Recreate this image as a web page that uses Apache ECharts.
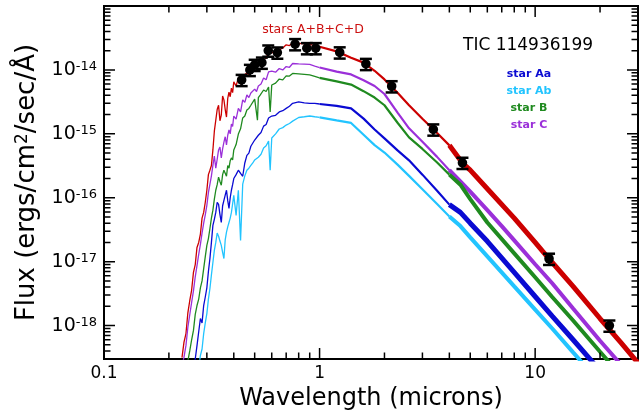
<!DOCTYPE html>
<html>
<head>
<meta charset="utf-8">
<title>TIC 114936199 SED</title>
<style>
html, body { margin: 0; padding: 0; background: #fff; }
#main { width: 639px; height: 416px; }
</style>
</head>
<body>
<div id="main"></div>
<script src="https://cdn.jsdelivr.net/npm/echarts@6/dist/echarts.min.js"></script>
<script>
// model spectra: [wavelength (microns), flux (ergs/cm2/sec/A)]
var starsABCD = [
    [0.23,3.15e-19],[0.235,5.5e-19],[0.24,7.5e-19],[0.245,1.6e-18],[0.25,2.47e-18],[0.255,3.6e-18],
    [0.26,6.8e-18],[0.265,9.0e-18],[0.27,1.67e-17],[0.275,2.0e-17],[0.28,2.7e-17],[0.285,4.8e-17],
    [0.29,5.9e-17],[0.295,8.5e-17],[0.30,1.31e-16],[0.305,2.3e-16],[0.31,2.7e-16],[0.315,3.2e-16],
    [0.32,5.6e-16],[0.325,1.1e-15],[0.33,1.15e-15],[0.335,2.4e-15],[0.34,2.8e-15],[0.345,1.6e-15],
    [0.35,1.97e-15],[0.355,3.9e-15],[0.36,3.4e-15],[0.365,2.4e-15],[0.37,1.83e-15],[0.375,3.6e-15],
    [0.38,4.5e-15],[0.385,3.8e-15],[0.39,5.2e-15],[0.395,4.4e-15],[0.40,6.5e-15],[0.41,5.6e-15],
    [0.42,7.5e-15],[0.43,6.0e-15],[0.44,7.0e-15],[0.45,8.4e-15],[0.46,9.0e-15],[0.47,8.2e-15],
    [0.48,9.6e-15],[0.49,1.02e-14],[0.50,1.07e-14],[0.51,1.2e-14],[0.52,1.33e-14],[0.535,1.25e-14],
    [0.55,1.6e-14],[0.565,1.5e-14],[0.58,2.06e-14],[0.60,1.85e-14],[0.625,2.0e-14],[0.65,2.06e-14],
    [0.675,2.2e-14],[0.70,2.47e-14],[0.725,2.4e-14],[0.75,2.65e-14],[0.80,2.6e-14],[0.85,2.55e-14],
    [0.90,2.5e-14],[0.95,2.4e-14],[1.0,2.3e-14],[1.2,1.95e-14],[1.4,1.55e-14],[1.6,1.3e-14],
    [1.8,9.7e-15],[2.0,7.1e-15],[2.3,4.4e-15],[2.6,2.8e-15],[3.0,1.72e-15],[3.5,1.04e-15],
    [4.0,6.6e-16],[4.6,3.5e-16],[5,2.7e-16],[6,1.38e-16],[8,4.8e-17],[10,2.0e-17],[12,9.7e-18],
    [15,4.1e-18],[20,1.29e-18],[25,5.4e-19],[30,2.6e-19]
];
var starC = [
    [0.23,2.3e-19],[0.235,3.2e-19],[0.24,4.9e-19],[0.245,9.5e-19],[0.25,1.49e-18],[0.255,2.3e-18],
    [0.26,3.5e-18],[0.265,5.8e-18],[0.27,8.7e-18],[0.275,1.3e-17],[0.28,1.87e-17],[0.285,2.8e-17],
    [0.29,4.0e-17],[0.295,5.4e-17],[0.30,7.6e-17],[0.305,1.2e-16],[0.31,1.63e-16],[0.315,2.2e-16],
    [0.32,3.2e-16],[0.325,4.5e-16],[0.33,2.9e-16],[0.335,4.0e-16],[0.34,5.6e-16],[0.345,6.2e-16],
    [0.35,4.2e-16],[0.355,5.8e-16],[0.36,7.4e-16],[0.365,9.0e-16],[0.37,6.7e-16],[0.375,9.5e-16],
    [0.38,1.15e-15],[0.385,1.0e-15],[0.39,1.42e-15],[0.395,1.3e-15],[0.40,1.9e-15],[0.41,1.7e-15],
    [0.42,2.5e-15],[0.43,2.2e-15],[0.44,3.4e-15],[0.45,3.1e-15],[0.46,4.05e-15],[0.47,3.7e-15],
    [0.48,4.35e-15],[0.49,4.1e-15],[0.50,5.0e-15],[0.51,4.6e-15],[0.52,5.6e-15],[0.535,6.0e-15],
    [0.55,7.5e-15],[0.565,7.0e-15],[0.58,9.3e-15],[0.60,9.6e-15],[0.625,9.2e-15],[0.65,1.05e-14],
    [0.675,1.0e-14],[0.70,1.13e-14],[0.725,1.1e-14],[0.75,1.26e-14],[0.80,1.24e-14],[0.85,1.23e-14],
    [0.90,1.22e-14],[0.95,1.15e-14],[1.0,1.09e-14],[1.2,9.4e-15],[1.4,8.5e-15],[1.6,6.9e-15],
    [1.8,5.6e-15],[2.0,4.2e-15],[2.3,2.15e-15],[2.6,1.22e-15],[3.0,7.5e-16],[3.5,4.4e-16],
    [4.0,2.7e-16],[4.5,1.8e-16],[5,1.25e-16],[6,6.4e-17],[7,3.6e-17],[8,2.15e-17],[10,9.1e-18],
    [12,4.6e-18],[15,1.85e-18],[20,5.8e-19],[25,2.45e-19]
];
var starB = [
    [0.24,2.1e-19],[0.245,2.8e-19],[0.25,4.05e-19],[0.255,6.0e-19],[0.26,8.4e-19],[0.265,1.5e-18],
    [0.27,2.06e-18],[0.275,2.6e-18],[0.28,3.9e-18],[0.285,5.0e-18],[0.29,7.8e-18],[0.295,1.2e-17],
    [0.30,1.8e-17],[0.305,2.3e-17],[0.31,3.3e-17],[0.315,4.8e-17],[0.32,6.4e-17],[0.325,9.5e-17],
    [0.33,1.31e-16],[0.335,1.6e-16],[0.34,2.1e-16],[0.345,1.8e-16],[0.35,1.57e-16],[0.355,2.3e-16],
    [0.36,2.7e-16],[0.365,2.9e-16],[0.37,2.17e-16],[0.375,3.2e-16],[0.38,2.9e-16],[0.385,3.8e-16],
    [0.39,4.2e-16],[0.395,3.9e-16],[0.40,5.6e-16],[0.41,6.8e-16],[0.42,9.9e-16],[0.43,1.2e-15],
    [0.44,1.77e-15],[0.45,1.9e-15],[0.46,2.36e-15],[0.47,2.5e-15],[0.48,2.8e-15],[0.49,3.0e-15],
    [0.50,3.5e-15],[0.51,3.6e-15],[0.515,1.64e-15],[0.52,3.7e-15],[0.53,4.05e-15],[0.55,4.85e-15],
    [0.565,4.6e-15],[0.58,5.4e-15],[0.59,2.2e-15],[0.60,5.8e-15],[0.625,6.2e-15],[0.65,7.2e-15],
    [0.675,7.0e-15],[0.70,8.05e-15],[0.725,8.0e-15],[0.75,8.8e-15],[0.80,8.65e-15],[0.85,8.5e-15],
    [0.90,8.35e-15],[0.95,7.9e-15],[1.0,7.5e-15],[1.2,6.6e-15],[1.4,5.9e-15],[1.6,4.65e-15],
    [1.8,3.7e-15],[2.0,2.8e-15],[2.3,1.49e-15],[2.6,8.8e-16],[3.0,5.8e-16],[3.5,3.6e-16],
    [4.0,2.3e-16],[4.5,1.6e-16],[5,9.5e-17],[6,4.1e-17],[8,1.35e-17],[10,5.7e-18],[12,2.8e-18],
    [15,1.2e-18],[20,3.9e-19],[25,1.64e-19]
];
var starAa = [
    [0.26,1.97e-19],[0.265,3.0e-19],[0.27,4.85e-19],[0.275,8.0e-19],[0.28,1.29e-18],[0.285,1.1e-18],
    [0.29,2.06e-18],[0.295,2.8e-18],[0.30,3.9e-18],[0.305,7.0e-18],[0.31,1.12e-17],[0.315,2.0e-17],
    [0.32,3.7e-17],[0.325,4.6e-17],[0.33,5.9e-17],[0.335,8.5e-17],[0.34,7.9e-17],[0.345,5.5e-17],
    [0.35,4.1e-17],[0.355,7.5e-17],[0.36,9.1e-17],[0.365,1.1e-16],[0.37,1.31e-16],[0.375,9.0e-17],
    [0.38,6.8e-17],[0.385,1.0e-16],[0.39,1.31e-16],[0.395,1.6e-16],[0.40,2.0e-16],[0.41,2.3e-16],
    [0.42,2.7e-16],[0.43,2.4e-16],[0.44,2.17e-16],[0.45,3.5e-16],[0.46,4.6e-16],[0.47,5.0e-16],
    [0.48,6.4e-16],[0.49,6.8e-16],[0.50,8.0e-16],[0.51,8.4e-16],[0.52,9.5e-16],[0.535,1.05e-15],
    [0.55,1.32e-15],[0.565,1.4e-15],[0.58,1.77e-15],[0.60,1.9e-15],[0.625,1.95e-15],[0.65,2.2e-15],
    [0.675,2.3e-15],[0.70,2.5e-15],[0.725,2.7e-15],[0.75,3.0e-15],[0.80,3.15e-15],[0.85,3.05e-15],
    [0.90,3.0e-15],[0.95,3.0e-15],[1.0,2.93e-15],[1.2,2.73e-15],[1.4,2.5e-15],[1.6,1.73e-15],
    [1.8,1.17e-15],[2.0,8.5e-16],[2.3,5.5e-16],[2.6,3.85e-16],[3.0,2.3e-16],[3.5,1.3e-16],
    [4.0,7.8e-17],[4.5,5.9e-17],[5,4.0e-17],[6,2.08e-17],[8,6.8e-18],[10,2.85e-18],[12,1.41e-18],
    [15,6.0e-19],[20,1.97e-19]
];
var starAb = [
    [0.27,1.47e-19],[0.275,2.2e-19],[0.28,3.4e-19],[0.285,4.3e-19],[0.29,7.5e-19],[0.295,1.1e-18],
    [0.30,1.54e-18],[0.305,2.6e-18],[0.31,3.8e-18],[0.315,6.2e-18],[0.32,9.7e-18],[0.325,1.5e-17],
    [0.33,2.0e-17],[0.335,2.8e-17],[0.34,2.5e-17],[0.345,2.1e-17],[0.35,1.8e-17],[0.355,1.4e-17],
    [0.36,1.12e-17],[0.365,2.2e-17],[0.37,2.9e-17],[0.375,3.5e-17],[0.38,4.1e-17],[0.385,4.8e-17],
    [0.39,5.9e-17],[0.395,8.0e-17],[0.40,1.09e-16],[0.41,5.3e-17],[0.42,1.31e-16],[0.43,2.15e-17],
    [0.44,1.63e-16],[0.45,2.2e-16],[0.46,2.7e-16],[0.47,2.9e-16],[0.48,3.2e-16],[0.49,3.5e-16],
    [0.50,3.9e-16],[0.51,4.0e-16],[0.52,4.3e-16],[0.535,4.8e-16],[0.55,6.0e-16],[0.565,6.5e-16],
    [0.58,7.7e-16],[0.59,2.7e-16],[0.60,8.6e-16],[0.625,1.0e-15],[0.65,1.19e-15],[0.675,1.25e-15],
    [0.70,1.37e-15],[0.725,1.45e-15],[0.75,1.58e-15],[0.80,1.8e-15],[0.85,1.85e-15],[0.90,1.9e-15],
    [0.95,1.85e-15],[1.0,1.81e-15],[1.2,1.62e-15],[1.4,1.48e-15],[1.6,9.7e-16],[1.8,6.65e-16],
    [2.0,5.1e-16],[2.3,3.3e-16],[2.6,2.2e-16],[3.0,1.36e-16],[3.5,8.05e-17],[4.0,5.1e-17],
    [4.5,3.6e-17],[5,2.4e-17],[6,1.21e-17],[8,4.1e-18],[10,1.78e-18],[12,9.0e-19],[15,3.8e-19],
    [20,1.28e-19]
];

// measured photometry
var photWave = [0.435, 0.475, 0.50, 0.54, 0.578, 0.637, 0.77, 0.873, 0.96, 1.24, 1.64, 2.16, 3.37, 4.6, 11.6, 22.1];
var photFlux = [6.97e-15, 1.0e-14, 1.2e-14, 1.3e-14, 2.01e-14, 1.87e-14, 2.53e-14, 2.19e-14, 2.19e-14,
                1.88e-14, 1.24e-14, 5.55e-15, 1.17e-15, 3.52e-16, 1.11e-17, 1.0e-18];
var photErr = [0.2, 0.2, 0.2, 0.2, 0.2, 0.2, 0.2, 0.2, 0.2, 0.2, 0.2, 0.2, 0.2, 0.2, 0.2, 0.2];

var xTickValues = [0.1, 1, 10];
var xTickLabels = ['0.1', '1', '10'];
var yTickValues = [1e-18, 1e-17, 1e-16, 1e-15, 1e-14];
var yTickLabels = ['-18', '-17', '-16', '-15', '-14'];

var xMin = 0.1, xMax = 30, yMin = 3e-19, yMax = 1e-13;
var FONT = 'DejaVu Sans';
var GRID = { left: 104, right: 1, top: 6, bottom: 57 };

function findTick(values, v) {
    for (var i = 0; i < values.length; i++) {
        if (Math.abs(v / values[i] - 1) < 1e-6) return i;
    }
    return -1;
}

function seg(data, lo, hi) {
    return data.filter(function (p) { return p[0] >= lo && p[0] <= hi; });
}

var myChart = echarts.init(document.getElementById('main'));

// tick marks: short line segments from the frame inward, one broken line series
var plotW = myChart.getWidth() - GRID.left - GRID.right;
var plotH = myChart.getHeight() - GRID.top - GRID.bottom;
function xStep(px) { return Math.pow(10, px * Math.log10(xMax / xMin) / plotW); }
function yStep(px) { return Math.pow(10, px * Math.log10(yMax / yMin) / plotH); }

var tickLines = [];
[0.1, 1, 10].forEach(function (d) {
    for (var m = 1; m < 10; m++) {
        var v = d * m, len = m === 1 ? 11 : 6.5;
        if (v < xMin || v > xMax) continue;
        tickLines.push([v, yMin], [v, yMin * yStep(len)], ['-', '-']);
        tickLines.push([v, yMax], [v, yMax / yStep(len)], ['-', '-']);
    }
});
[1e-19, 1e-18, 1e-17, 1e-16, 1e-15, 1e-14].forEach(function (d) {
    for (var m = 1; m < 10; m++) {
        var v = d * m, len = m === 1 ? 11 : 6.5;
        if (v <= yMin || v >= yMax * 0.999) continue;
        tickLines.push([xMin, v], [xMin * xStep(len), v], ['-', '-']);
        tickLines.push([xMax, v], [xMax / xStep(len), v], ['-', '-']);
    }
});

var stars = [
    { name: 'stars A+B+C+D', data: starsABCD, color: '#cc0000', thick: 5 },
    { name: 'star C', data: starC, color: '#9b30d9', thick: 4 },
    { name: 'star B', data: starB, color: '#1f8a1f', thick: 4 },
    { name: 'star Aa', data: starAa, color: '#0a0ad2', thick: 5 },
    { name: 'star Ab', data: starAb, color: '#22c4ff', thick: 4 }
];

var series = [];
stars.forEach(function (s) {
    [[0, 1.0, 1.3], [1.0, 4.0, 2.2], [4.0, 100, s.thick]].forEach(function (r) {
        series.push({
            name: s.name,
            type: 'line',
            data: seg(s.data, r[0], r[1]),
            showSymbol: false,
            symbol: 'none',
            lineStyle: { color: s.color, width: r[2] },
            z: 2
        });
    });
});

series.push({
    name: 'ticks',
    type: 'line',
    data: tickLines,
    showSymbol: false,
    symbol: 'none',
    connectNulls: false,
    lineStyle: { color: '#000', width: 1.5 },
    z: 3
});

series.push({
    type: 'custom',
    name: 'photometry',
    data: photWave.map(function (w, i) { return [w, photFlux[i], photErr[i]]; }),
    encode: { x: 0, y: 1 },
    z: 10,
    renderItem: function (params, api) {
        var w = api.value(0), f = api.value(1), e = api.value(2);
        var c = api.coord([w, f]);
        var hi = api.coord([w, f * (1 + e)]);
        var lo = api.coord([w, f * (1 - e)]);
        var st = { stroke: '#000', lineWidth: 2.5 };
        return {
            type: 'group',
            children: [
                { type: 'line', shape: { x1: c[0], y1: hi[1], x2: c[0], y2: lo[1] }, style: st },
                { type: 'line', shape: { x1: c[0] - 6, y1: hi[1], x2: c[0] + 6, y2: hi[1] }, style: st },
                { type: 'line', shape: { x1: c[0] - 6, y1: lo[1], x2: c[0] + 6, y2: lo[1] }, style: st },
                { type: 'circle', shape: { cx: c[0], cy: c[1], r: 4.8 }, style: { fill: '#000' } }
            ]
        };
    }
});

var option = {
    animation: false,
    grid: {
        left: GRID.left, right: GRID.right, top: GRID.top, bottom: GRID.bottom,
        show: true, borderColor: '#000', borderWidth: 2,
        containLabel: false, outerBoundsMode: 'none'
    },
    xAxis: {
        type: 'log',
        min: xMin,
        max: xMax,
        name: 'Wavelength (microns)',
        nameLocation: 'middle',
        nameGap: 28,
        nameTextStyle: { fontFamily: FONT, fontSize: 24, color: '#000' },
        axisLine: { show: false },
        axisTick: { show: false },
        splitLine: { show: false },
        axisLabel: {
            margin: 6,
            fontFamily: FONT,
            fontSize: 17,
            color: '#000',
            formatter: function (v) {
                var i = findTick(xTickValues, v);
                return i < 0 ? '' : xTickLabels[i];
            }
        }
    },
    yAxis: {
        type: 'log',
        min: yMin,
        max: yMax,
        name: 'Flux (ergs/cm{sup|2}/sec/Å)',
        nameLocation: 'middle',
        nameGap: 64,
        nameTextStyle: {
            fontFamily: FONT, fontSize: 26, color: '#000',
            rich: { sup: { fontFamily: FONT, fontSize: 17, color: '#000', verticalAlign: 'top' } }
        },
        axisLine: { show: false },
        axisTick: { show: false },
        splitLine: { show: false },
        axisLabel: {
            margin: 7,
            color: '#000',
            formatter: function (v) {
                var i = findTick(yTickValues, v);
                return i < 0 ? '' : '{b|10}{s|' + yTickLabels[i] + '}';
            },
            rich: {
                b: { fontFamily: FONT, fontSize: 19, color: '#000' },
                s: { fontFamily: FONT, fontSize: 13, color: '#000', verticalAlign: 'top' }
            }
        }
    },
    graphic: [
        { type: 'text', style: { text: 'stars A+B+C+D', x: 313, y: 30, align: 'center', verticalAlign: 'middle', fill: '#cc1010', font: '12.5px "DejaVu Sans"' } },
        { type: 'text', style: { text: 'TIC 114936199', x: 528, y: 46, align: 'center', verticalAlign: 'middle', fill: '#000', font: '17px "DejaVu Sans"' } },
        { type: 'text', style: { text: 'star Aa', x: 529, y: 74, align: 'center', verticalAlign: 'middle', fill: '#0a0ad2', font: 'bold 11px "DejaVu Sans"' } },
        { type: 'text', style: { text: 'star Ab', x: 529, y: 91, align: 'center', verticalAlign: 'middle', fill: '#22c4ff', font: 'bold 11px "DejaVu Sans"' } },
        { type: 'text', style: { text: 'star B', x: 529, y: 108, align: 'center', verticalAlign: 'middle', fill: '#1f8a1f', font: 'bold 11px "DejaVu Sans"' } },
        { type: 'text', style: { text: 'star C', x: 529, y: 125.5, align: 'center', verticalAlign: 'middle', fill: '#9b30d9', font: 'bold 11px "DejaVu Sans"' } }
    ],
    series: series
};

myChart.setOption(option);
</script>
</body>
</html>
